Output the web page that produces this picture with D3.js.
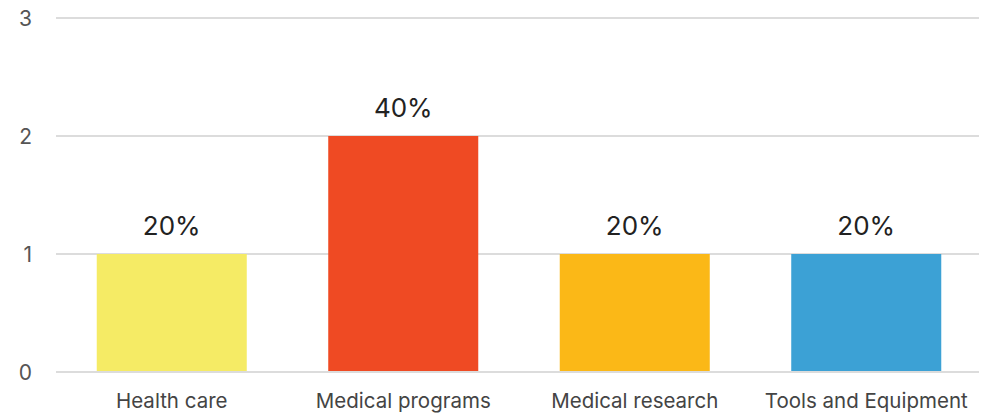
<!DOCTYPE html>
<html><head><meta charset="utf-8">
<script src="https://cdn.jsdelivr.net/npm/d3@7"></script>
<style>body{margin:0;background:#fff;} svg{display:block;font-family:Inter, "Noto Sans", sans-serif;}</style>
</head><body><svg id="c" width="1002" height="413"></svg>
<script>
const categories = ["Health care","Medical programs","Medical research","Tools and Equipment"];
const values = [1,2,1,1];
const valueLabels = ["20%","40%","20%","20%"];
const colors = ["#F5EB65","#EF4A23","#FBB817","#3CA1D5"];
const yTicks = [0,1,2,3];

const svg = d3.select("#c");
const x = d3.scaleBand().domain(categories).range([56,982]).paddingInner(0.352).paddingOuter(0.176);
const y = d3.scaleLinear().domain([0,3]).range([372,18]);

svg.append("g").selectAll("line").data(yTicks).join("line")
  .attr("x1",56).attr("x2",979).attr("y1",d=>y(d)).attr("y2",d=>y(d))
  .attr("stroke","#dcdcdc").attr("stroke-width",2);

svg.append("g").selectAll("text").data(yTicks).join("text")
  .attr("x",32).attr("y",d=>y(d)).attr("dy","0.36em").attr("text-anchor","end")
  .attr("font-size",21).attr("fill","#555").text(d=>d);

svg.append("g").selectAll("rect").data(values).join("rect")
  .attr("x",(d,i)=>x(categories[i])).attr("width",x.bandwidth())
  .attr("y",d=>y(d)).attr("height",d=>y(0)-y(d)-1)
  .attr("fill",(d,i)=>colors[i]);

svg.append("g").selectAll("text").data(values).join("text")
  .attr("x",(d,i)=>x(categories[i])+x.bandwidth()/2).attr("y",d=>y(d)-19)
  .attr("text-anchor","middle").attr("font-size",26).attr("fill","#222")
  .text((d,i)=>valueLabels[i]);

svg.append("g").selectAll("text").data(categories).join("text")
  .attr("x",d=>x(d)+x.bandwidth()/2).attr("y",408)
  .attr("text-anchor","middle").attr("font-size",20.5).attr("fill","#444")
  .text(d=>d);
</script></body></html>
